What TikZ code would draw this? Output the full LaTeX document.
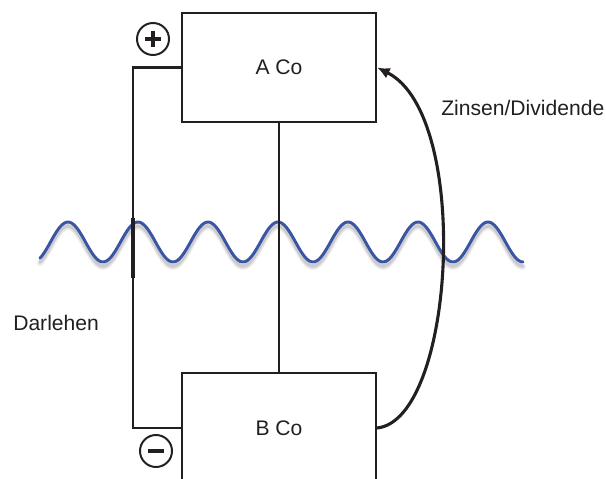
\documentclass[tikz,border=0pt]{standalone}
\usepackage{fontspec}
\setmainfont{Liberation Sans}
\usepackage{xcolor}
\usetikzlibrary{arrows.meta}
\definecolor{inkc}{RGB}{35,31,32}
\definecolor{wavec}{RGB}{58,85,164}
\definecolor{shadc}{RGB}{185,185,190}
\begin{document}
\begin{tikzpicture}[x=0.025cm,y=-0.025cm,>={Latex[length=9pt,width=8pt]},
  cobox/.style={draw=inkc,line width=1.5pt,minimum width=4.85cm,minimum height=2.73cm,text=inkc,font=\fontsize{15}{18}\selectfont},
  signc/.style={circle,draw=inkc,line width=1.4pt,minimum size=0.8cm,inner sep=0pt},
  lbl/.style={text=inkc,inner sep=0pt,anchor=west,font=\fontsize{15}{18}\selectfont}]
\useasboundingbox (0,0) rectangle (606,479);
\clip (0,0) rectangle (606,479);
\draw[shadc,line width=4pt,line cap=round,opacity=.3] plot[domain=40:523,samples=240] (\x,{247-20*cos((\x-68)/70*360)});
\draw[shadc,line width=2.6pt,line cap=round,opacity=.6] plot[domain=40:523,samples=240] (\x,{246-20*cos((\x-68)/70*360)});
\draw[wavec,line width=2.1pt,line cap=round] plot[domain=40:523,samples=240] (\x,{242-20*cos((\x-68)/70*360)});
\node[cobox] (aco) at (279,67.5) {A Co};
\node[cobox] (bco) at (279,428) {B Co};
\node[signc] (plus) at (153,39) {};
\node[signc] (minus) at (156,451) {};
\draw[inkc,line width=2.6pt] ([xshift=-8*0.025cm]plus.center)--([xshift=8*0.025cm]plus.center);
\draw[inkc,line width=2.6pt] ([yshift=-8*0.025cm]plus.center)--([yshift=8*0.025cm]plus.center);
\draw[inkc,line width=2.8pt] ([xshift=-8*0.025cm]minus.center)--([xshift=8*0.025cm]minus.center);
\draw[inkc,line width=1.5pt] (aco.west) -- ++(-48,0) coordinate (wtop) |- (bco.west);
\draw[inkc,line width=2.8pt] ([yshift=-150*0.025cm]wtop) -- ([yshift=-210*0.025cm]wtop);
\draw[inkc,line width=1.5pt] (aco.south) -- (bco.north);
\draw[->,inkc,line width=2.2pt] (bco.east) .. controls (455,420) and (472,115) .. (aco.east);
\node[lbl] (zins) at (441,108) {Zinsen/Dividende};
\node[lbl] (darl) at (13,323) {Darlehen};
\end{tikzpicture}
\end{document}
